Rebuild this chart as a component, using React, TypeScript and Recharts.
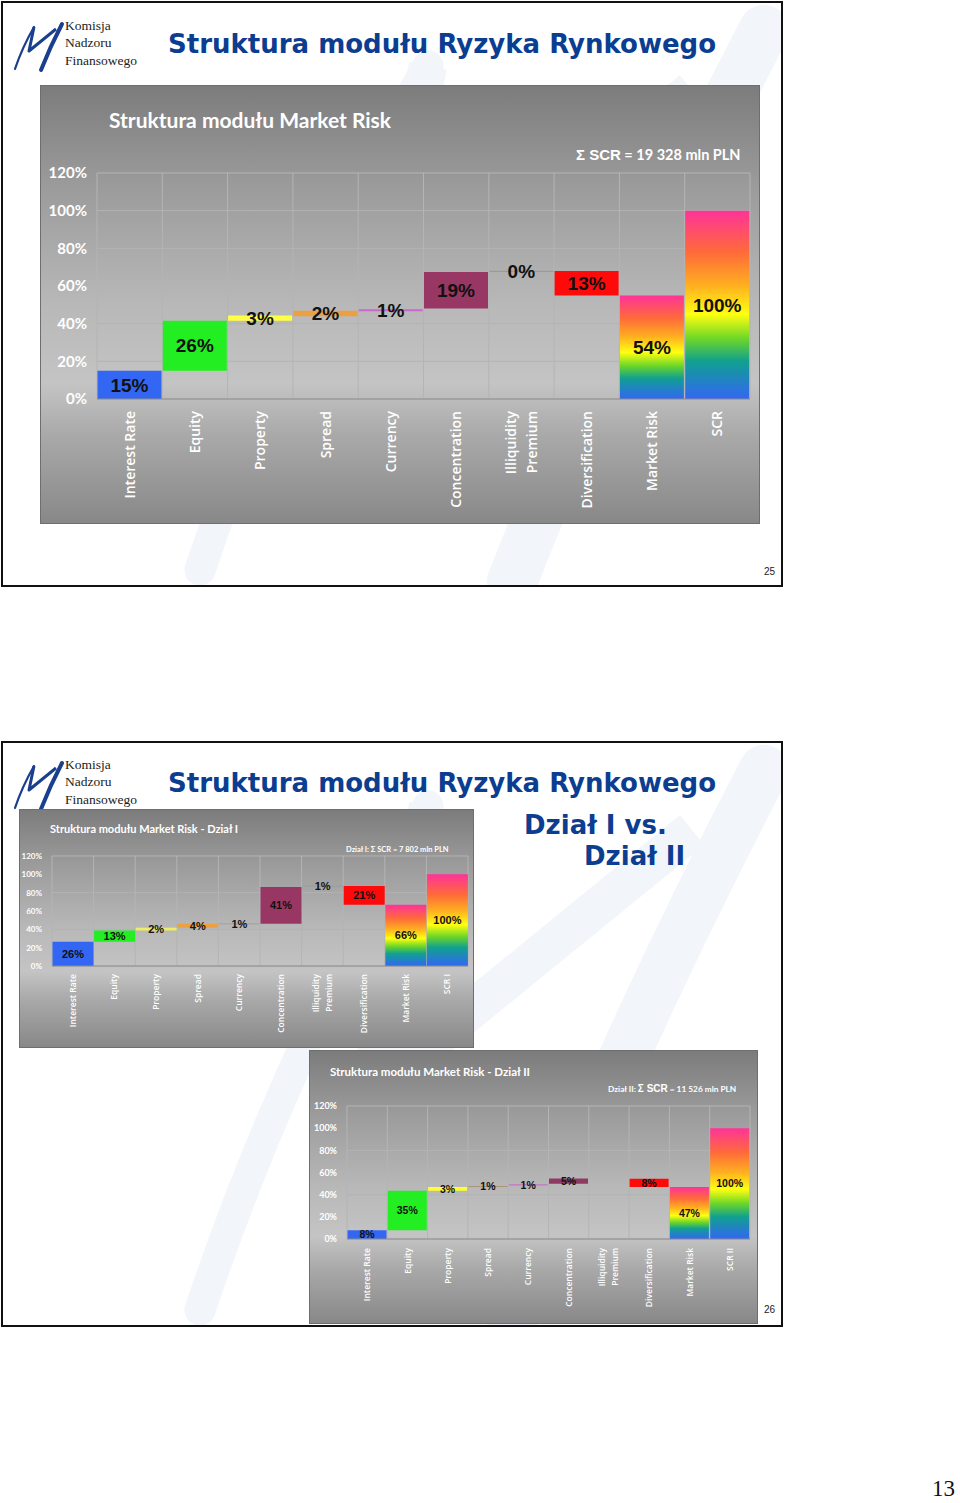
import React from 'react';
import { BarChart, Bar, XAxis, YAxis, CartesianGrid, Cell, LabelList } from 'recharts';

// Slide 25: Market Risk structure
const CATEGORIES_1 = ['Interest Rate', 'Equity', 'Property', 'Spread', 'Currency', 'Concentration', 'Illiquidity Premium', 'Diversification', 'Market Risk', 'SCR'];
const BASE_1 = [0, 15, 41.6, 44, 46.6, 48, 67.5, 55, 0, 0];
const VALUE_1 = [15, 26.6, 2.7, 2.8, 1, 19.4, 0.6, 13, 55, 100];
const LABELS_1 = ['15%', '26%', '3%', '2%', '1%', '19%', '0%', '13%', '54%', '100%'];

// Slide 26: Dział I
const CATEGORIES_2 = ['Interest Rate', 'Equity', 'Property', 'Spread', 'Currency', 'Concentration', 'Illiquidity Premium', 'Diversification', 'Market Risk', 'SCR I'];
const BASE_2 = [0, 26.4, 38.8, 41.7, 45.6, 46, 86.8, 66.7, 0, 0];
const VALUE_2 = [26.4, 12.4, 2.9, 4.3, 0.7, 40.3, 0.7, 20.6, 66.7, 100];
const LABELS_2 = ['26%', '13%', '2%', '4%', '1%', '41%', '1%', '21%', '66%', '100%'];

// Slide 26: Dział II
const CATEGORIES_3 = ['Interest Rate', 'Equity', 'Property', 'Spread', 'Currency', 'Concentration', 'Illiquidity Premium', 'Diversification', 'Market Risk', 'SCR II'];
const BASE_3 = [0, 7.8, 43.6, 47, 48.3, 49.9, 54.6, 46.9, 0, 0];
const VALUE_3 = [7.8, 35.8, 3.4, 0.9, 1, 4.7, 0, 7.4, 46.9, 100];
const LABELS_3 = ['8%', '35%', '3%', '1%', '1%', '5%', '0%', '8%', '47%', '100%'];

const Y_TICKS = [0, 20, 40, 60, 80, 100, 120];

const COLORS_1 = ['#3366f2', '#22ee22', '#ffff44', '#eda040', '#cc66cc', '#983764', '#9a9a9a', '#ff0a0a', 'RB', 'RB'];
const COLORS_2 = ['#3366f2', '#22ee22', '#eeee66', '#eda040', '#999999', '#983764', '#999999', '#ff0a0a', 'RB', 'RB'];
const COLORS_3 = ['#3366f2', '#22ee22', '#ffff33', '#a89478', '#c474c4', '#8e3a62', '#999999', '#ff0a0a', 'RB', 'RB'];

const BLUE = '#0b3d91';

type WProps = {
  id: string;
  width: number;
  height: number;
  categories: string[];
  bases: number[];
  values: number[];
  labels: string[];
  colors: string[];
  top: number;
  right: number;
  yWidth: number;
  xHeight: number;
  tickSize: number;
  catSize: number;
  catOffset: number;
  labelSize: number;
  labelFont: string;
};

function Waterfall(p: WProps) {
  const data = p.categories.map((name, i) => ({
    name,
    base: p.bases[i],
    value: p.values[i],
    label: p.labels[i],
  }));
  const n = p.categories.length;

  const catTick = (props: any) => {
    const { x, y, payload } = props;
    const words = String(payload.value);
    const lines = words === 'Illiquidity Premium' ? ['Illiquidity', 'Premium'] : [words];
    const style = {
      fill: '#ffffff',
      fontSize: p.catSize,
      fontWeight: 600,
      fontFamily: "'Open Sans', sans-serif",
    };
    return (
      <g transform={`translate(${x},${y + p.catOffset})`}>
        {lines.map((t, k) => (
          <text
            key={k}
            transform="rotate(-90)"
            textAnchor="end"
            x={0}
            y={0}
            dy={lines.length === 1 ? '0.36em' : k === 0 ? '-0.42em' : '1.12em'}
            style={style}
          >
            {t}
          </text>
        ))}
      </g>
    );
  };

  return (
    <BarChart
      width={p.width}
      height={p.height}
      data={data}
      margin={{ top: p.top, right: p.right, left: 0, bottom: 0 }}
      barCategoryGap={0.5}
    >
      <defs>
        <linearGradient id={`${p.id}-rb`} x1="0" y1="0" x2="0" y2="1">
          <stop offset="0%" stopColor="#ff3399" />
          <stop offset="22%" stopColor="#ff6a3a" />
          <stop offset="40%" stopColor="#ffb020" />
          <stop offset="55%" stopColor="#ffff10" />
          <stop offset="68%" stopColor="#6cd628" />
          <stop offset="80%" stopColor="#10a090" />
          <stop offset="100%" stopColor="#3366f5" />
        </linearGradient>
      </defs>
      <CartesianGrid
        stroke="#b4b4b4"
        verticalCoordinatesGenerator={({ offset }: any) =>
          Array.from({ length: n + 1 }, (_, i) => offset.left + (i * offset.width) / n)
        }
      />
      <XAxis
        dataKey="name"
        interval={0}
        height={p.xHeight}
        tickLine={false}
        axisLine={{ stroke: '#8c8c8c' }}
        tick={catTick}
      />
      <YAxis
        domain={[0, 120]}
        ticks={Y_TICKS}
        width={p.yWidth}
        axisLine={false}
        tickLine={false}
        tickMargin={4}
        tickFormatter={(v: number) => `${v}%`}
        tick={{ fill: '#ffffff', fontSize: p.tickSize, fontWeight: 700, fontFamily: 'Lato, sans-serif' }}
      />
      <Bar dataKey="base" stackId="w" fill="transparent" isAnimationActive={false} />
      <Bar dataKey="value" stackId="w" isAnimationActive={false}>
        {data.map((d, i) => (
          <Cell key={i} fill={p.colors[i] === 'RB' ? `url(#${p.id}-rb)` : p.colors[i]} />
        ))}
        <LabelList
          dataKey="label"
          position="center"
          style={{ fill: '#111111', fontSize: p.labelSize, fontWeight: 700, fontFamily: p.labelFont }}
        />
      </Bar>
    </BarChart>
  );
}

const boxBg =
  'linear-gradient(180deg, #7c7c7c 0%, #9a9a9a 22%, #b8b8b8 50%, #c4c4c4 68%, #a9a9a9 80%, #888888 100%)';

// KNF logo strokes in a 0..70 coordinate box
const LOGO_THIN = 'M15,67 Q22,46 34,25';
const LOGO_ZIG = 'M34,25 L29,49 L56,27';
const LOGO_THICK = 'M62,22 Q50,45 41,68';

function Logo({ x, y }: { x: number; y: number }) {
  const t: React.CSSProperties = {
    position: 'absolute',
    left: 51,
    fontFamily: "'Liberation Serif', 'Times New Roman', serif",
    fontSize: 13.5,
    color: '#222',
    lineHeight: '18px',
    whiteSpace: 'nowrap',
  };
  return (
    <div style={{ position: 'absolute', left: x, top: y, width: 140, height: 56 }}>
      <svg width={60} height={56} viewBox="14 16 60 56" style={{ position: 'absolute', left: 0, top: -2 }}>
        <path d={LOGO_THIN} fill="none" stroke="#1a3f8f" strokeWidth={2.2} strokeLinecap="round" />
        <path d={LOGO_ZIG} fill="none" stroke="#1a3f8f" strokeWidth={3} strokeLinejoin="round" />
        <path d={LOGO_THICK} fill="none" stroke="#1a3f8f" strokeWidth={4} strokeLinecap="round" />
      </svg>
      <div style={{ ...t, top: -3 }}>Komisja</div>
      <div style={{ ...t, top: 14 }}>Nadzoru</div>
      <div style={{ ...t, top: 32 }}>Finansowego</div>
    </div>
  );
}

function Watermark({ top }: { top: number }) {
  const c = '#f2f5fa';
  return (
    <svg width={780} height={584} style={{ position: 'absolute', left: 2, top: top + 2 }}>
      <g transform="translate(18, -236) scale(12)">
        <path d={LOGO_THIN} fill="none" stroke={c} strokeWidth={2.6} strokeLinecap="round" />
        <path d={LOGO_ZIG} fill="none" stroke={c} strokeWidth={3.2} strokeLinejoin="round" />
        <path d={LOGO_THICK} fill="none" stroke={c} strokeWidth={4.2} strokeLinecap="round" />
      </g>
    </svg>
  );
}

const abs = (l: number, t: number, extra: React.CSSProperties = {}): React.CSSProperties => ({
  position: 'absolute',
  left: l,
  top: t,
  whiteSpace: 'nowrap',
  ...extra,
});

const titleStyle: React.CSSProperties = {
  fontFamily: "'DejaVu Sans', Verdana, sans-serif",
  fontWeight: 700,
  fontSize: 26,
  color: BLUE,
  lineHeight: '30px',
};

const chartTitle = (size: number): React.CSSProperties => ({
  fontFamily: 'Lato, sans-serif',
  fontWeight: 700,
  fontSize: size,
  color: '#ffffff',
});

export default function App() {
  return (
    <div style={{ position: 'absolute', left: 0, top: 0, width: 960, height: 1503, background: '#fff', overflow: 'hidden' }}>
      <Watermark top={0} />
      <Watermark top={740} />

      {/* Slide 25 */}
      <div style={abs(1, 1, { width: 782, height: 586, border: '2px solid #111', boxSizing: 'border-box' })} />
      <Logo x={14} y={20} />
      <div style={abs(168, 29, titleStyle)}>Struktura modułu Ryzyka Rynkowego</div>
      <div style={abs(40, 85, { width: 720, height: 439, background: boxBg, border: '1px solid #6e6e6e', boxSizing: 'border-box' })}>
        <div style={abs(68, 21, chartTitle(21))}>Struktura modułu Market Risk</div>
        <div style={abs(535, 60, chartTitle(14.5))}>
          <span style={{ fontFamily: "'Liberation Sans', Arial, sans-serif", fontSize: 15 }}>Σ SCR</span> = 19 328 mln PLN
        </div>
        <div style={abs(0, 0)}>
          <Waterfall
            id="c1"
            width={718}
            height={437}
            categories={CATEGORIES_1}
            bases={BASE_1}
            values={VALUE_1}
            labels={LABELS_1}
            colors={COLORS_1}
            top={87}
            right={9}
            yWidth={56}
            xHeight={124}
            tickSize={15}
            catSize={14}
            catOffset={4}
            labelSize={19}
            labelFont="'Liberation Sans Narrow', 'Arial Narrow', sans-serif"
          />
        </div>
      </div>
      <div style={abs(764, 566, { fontFamily: "'Liberation Sans', Arial, sans-serif", fontSize: 10, color: '#222' })}>25</div>

      {/* Slide 26 */}
      <div style={abs(1, 741, { width: 782, height: 586, border: '2px solid #111', boxSizing: 'border-box' })} />
      <Logo x={14} y={759} />
      <div style={abs(168, 768, titleStyle)}>Struktura modułu Ryzyka Rynkowego</div>
      <div style={abs(524, 810, titleStyle)}>Dział I vs.</div>
      <div style={abs(584, 841, titleStyle)}>Dział II</div>

      <div style={abs(19, 809, { width: 455, height: 239, background: boxBg, border: '1px solid #6e6e6e', boxSizing: 'border-box' })}>
        <div style={abs(30, 12, chartTitle(11))}>Struktura modułu Market Risk - Dział I</div>
        <div style={abs(326, 35, chartTitle(7.5))}>Dział I: Σ SCR = 7 802 mln PLN</div>
        <div style={abs(0, 0)}>
          <Waterfall
            id="c2"
            width={453}
            height={237}
            categories={CATEGORIES_2}
            bases={BASE_2}
            values={VALUE_2}
            labels={LABELS_2}
            colors={COLORS_2}
            top={46}
            right={5}
            yWidth={32}
            xHeight={81}
            tickSize={8}
            catSize={8.5}
            catOffset={0}
            labelSize={11}
            labelFont="'Liberation Sans', Arial, sans-serif"
          />
        </div>
      </div>

      <div style={abs(309, 1050, { width: 449, height: 274, background: boxBg, border: '1px solid #6e6e6e', boxSizing: 'border-box' })}>
        <div style={abs(20, 14, chartTitle(11.5))}>Struktura modułu Market Risk - Dział II</div>
        <div style={abs(298, 32, chartTitle(8.3))}>
          Dział II: <span style={{ fontFamily: "'Liberation Sans', Arial, sans-serif", fontSize: 10 }}>Σ SCR</span> = 11 526 mln PLN
        </div>
        <div style={abs(0, 0)}>
          <Waterfall
            id="c3"
            width={447}
            height={272}
            categories={CATEGORIES_3}
            bases={BASE_3}
            values={VALUE_3}
            labels={LABELS_3}
            colors={COLORS_3}
            top={55}
            right={7}
            yWidth={37}
            xHeight={84}
            tickSize={9}
            catSize={8.5}
            catOffset={1}
            labelSize={10.5}
            labelFont="'Liberation Sans', Arial, sans-serif"
          />
        </div>
      </div>
      <div style={abs(764, 1304, { fontFamily: "'Liberation Sans', Arial, sans-serif", fontSize: 10, color: '#222' })}>26</div>

      <div style={abs(932, 1476, { fontFamily: "'Liberation Serif', 'Times New Roman', serif", fontSize: 23, color: '#111' })}>13</div>
    </div>
  );
}
